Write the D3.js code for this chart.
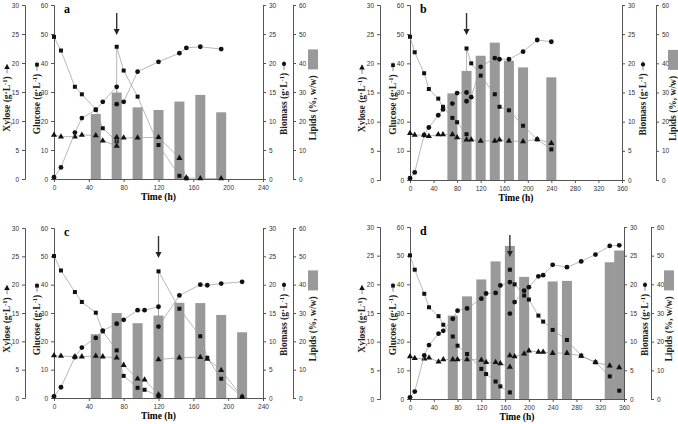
<!DOCTYPE html>
<html><head><meta charset="utf-8">
<script src="https://cdn.jsdelivr.net/npm/d3@7"></script>
<style>body{margin:0;background:#fff}svg{font-family:"Liberation Serif",serif}</style>
</head><body>
<svg id="chart" width="678" height="424"></svg>
<script>
// [time (h), value]
const aGlucose = [[0,49],[8,44.3],[24,31.8],[32,29.2],[48,24],[56,17.5],[72,13],[72,45.6],[80,37.4],[96,28.4],[120,11.7],[144,1.1],[152,0.2]];
const aXylose = [[0,7.6],[8,7.3],[24,7.3],[32,7.6],[48,7.5],[56,6.6],[72,5.7],[72,7.2],[80,7.1],[96,7.1],[120,7.2],[144,3.6],[152,0.2],[168,0.1],[192,0.1]];
const aBiomass = [[0,0.3],[8,2.0],[24,8.0],[32,10.5],[48,11.9],[56,13.3],[72,15.9],[72,12.9],[80,13.3],[96,18.5],[120,20.2],[144,21.7],[152,22.6],[168,22.8],[192,22.4]];
const aLipids = [[48,22.4],[72,29.8],[96,24.7],[120,23.8],[144,26.7],[168,29],[192,23]];

const bGlucose = [[0,49.1],[8,43.8],[24,36.6],[32,31.2],[48,27.9],[56,25.1],[72,21.3],[80,19.8],[96,15.7],[96,45.1],[104,40],[120,35.8],[144,29.4],[152,25.1],[168,23.9],[192,18.6],[216,13.9],[240,10.5]];
const bXylose = [[0,8],[8,7.7],[24,7.7],[32,7.5],[48,7.8],[56,7.8],[72,7.8],[80,7.3],[96,6.9],[104,6.9],[120,6.7],[144,6.7],[152,6.9],[168,6.7],[192,6.6],[216,7],[240,6.3]];
const bBiomass = [[0,0.3],[8,1.3],[24,7.7],[32,9],[48,11.1],[56,12.1],[72,13.1],[80,14.9],[96,15],[96,13.5],[104,14.2],[120,19.4],[144,20.9],[152,20.7],[168,20.7],[192,22],[216,24],[240,23.7]];
const bLipids = [[72,29.7],[96,37.4],[120,42.6],[144,47.1],[168,40.9],[192,38.6],[240,35.2]];

const cGlucose = [[0,50.1],[8,45],[24,37.4],[32,33.9],[48,30.1],[56,23.5],[72,16.8],[80,7.8],[96,3.6],[104,2.9],[120,0.7],[120,44.7],[144,31.5],[168,21.8],[176,14.2],[192,6.8],[216,0.4]];
const cXylose = [[0,7.5],[8,7.4],[24,7.3],[32,7.3],[48,7.4],[56,7.3],[72,7.1],[80,5.8],[96,3.4],[104,3.2],[120,0.6],[120,6.8],[144,7.1],[168,7.2],[176,6.9],[192,4.9],[216,0.2]];
const cBiomass = [[0,0.3],[8,1.9],[24,7.2],[32,8.9],[48,10.6],[56,11.9],[72,13.1],[80,13.8],[96,15.5],[104,15.5],[120,16.1],[120,12.6],[144,18.1],[168,20],[176,19.9],[192,20.2],[216,20.5]];
const cLipids = [[48,22.5],[72,30],[96,26.4],[120,29.1],[144,33.6],[168,33.5],[192,29.3],[216,23.2]];

const dGlucose = [[0,50.1],[8,45.1],[24,36.7],[32,32],[48,28.9],[56,25.9],[72,21.8],[80,18.6],[96,15.7],[120,10.5],[128,8.7],[144,6.1],[152,4.4],[168,2.3],[168,45.1],[176,40],[192,36.1],[200,34.7],[216,29.1],[224,27],[240,24.1],[264,20.6],[288,15.1],[312,12.8],[336,7.9],[352,2.9]];
const dXylose = [[0,7.4],[8,7.1],[24,7],[32,7.2],[48,6.5],[56,6.9],[72,6.9],[80,6.9],[96,6.9],[120,6.8],[128,6.4],[144,6.4],[152,6.2],[168,5.6],[168,7.6],[176,7.4],[192,7.9],[200,8.4],[216,8.2],[224,8.2],[240,8],[264,8],[288,7.5],[312,6.4],[336,5.8],[352,5.5]];
const dBiomass = [[0,0.3],[8,1.3],[24,7.6],[32,9.4],[48,11.4],[56,11.9],[72,14],[80,15.4],[96,15.8],[120,17.5],[128,18.4],[144,18.5],[152,19.8],[168,20.4],[168,14.9],[176,16.9],[192,18.9],[200,19.5],[216,21.4],[224,21.6],[240,23.4],[264,23],[288,24],[312,25.2],[336,26.7],[352,26.8]];
const dLipids = [[72,29.1],[96,35.8],[120,41.7],[144,48],[168,53.4],[192,42.6],[240,41],[264,41.2],[336,47.7],[352,51.8]];

const feedTimes = {a: 72, b: 96, c: 120, d: 168};
const panelLetters = ["a", "b", "c", "d"];
const xMaxes = [240, 360, 240, 360];
const lowTicks = [0, 5, 10, 15, 20, 25, 30];
const highTicks = [0, 10, 20, 30, 40, 50, 60];

const panels = [
  {key: "a", glu: aGlucose, xyl: aXylose, bio: aBiomass, lip: aLipids, left: 54, right: 263, top: 5, bottom: 179, xylX: 25, lipX: 293, lipLab: 313},
  {key: "b", glu: bGlucose, xyl: bXylose, bio: bBiomass, lip: bLipids, left: 410, right: 622, top: 5, bottom: 180, xylX: 380, lipX: 656, lipLab: 673},
  {key: "c", glu: cGlucose, xyl: cXylose, bio: cBiomass, lip: cLipids, left: 54, right: 263, top: 228, bottom: 398, xylX: 25, lipX: 293, lipLab: 313},
  {key: "d", glu: dGlucose, xyl: dXylose, bio: dBiomass, lip: dLipids, left: 410, right: 624, top: 227, bottom: 399, xylX: 380, lipX: 651, lipLab: 669}
];

const svg = d3.select("#chart");
const axisCol = "#555";

const styleAxis = g => {
  g.selectAll("path,line").attr("stroke", axisCol);
  g.selectAll("text").attr("fill", "#333").style("font-size", "6.5px");
};

// rotated label with "— marker" on its upper end
const vLabel = (x, yc, html, marker) => {
  const t = svg.append("text").attr("transform", `translate(${x},${yc}) rotate(-90)`)
    .attr("text-anchor", "middle").attr("dy", "0.35em")
    .style("font-size", "9.5px").style("font-weight", "bold").attr("fill", "#222")
    .html(html);
  const len = t.node().getComputedTextLength();
  const topY = yc - len / 2;
  if (marker === "bar") {
    svg.append("rect").attr("x", x - 5).attr("y", topY - 26).attr("width", 10).attr("height", 20).attr("fill", "#999");
    return;
  }
  svg.append("line").attr("x1", x).attr("x2", x).attr("y1", topY - 3).attr("y2", topY - 12)
    .attr("stroke", "#555").attr("stroke-width", 0.7);
  svg.append("path").attr("transform", `translate(${x},${topY - 9})`)
    .attr("d", d3.symbol().type(marker).size(14)).attr("fill", "#111");
};

const sup = "(g·L<tspan dy='-3.5' font-size='6.5'>-1</tspan><tspan dy='3.5'>)</tspan>";

panels.forEach((p, i) => {
  const x = d3.scaleLinear().domain([0, xMaxes[i]]).range([p.left, p.right]);
  const yLow = d3.scaleLinear().domain([0, 30]).range([p.bottom, p.top]);
  const yHigh = d3.scaleLinear().domain([0, 60]).range([p.bottom, p.top]);
  const mid = (p.top + p.bottom) / 2;

  svg.append("g").selectAll("rect").data(p.lip).enter().append("rect")
    .attr("x", d => x(d[0]) - 5).attr("width", 10)
    .attr("y", d => yHigh(d[1])).attr("height", d => p.bottom - yHigh(d[1]))
    .attr("fill", "#999");

  const xt = d3.range(0, xMaxes[i] + 1, 40);
  svg.append("g").attr("transform", `translate(0,${p.bottom})`)
    .call(d3.axisBottom(x).tickValues(xt).tickSize(3).tickFormat(d3.format("d"))).call(styleAxis);
  svg.append("g").attr("transform", `translate(${p.left},0)`)
    .call(d3.axisLeft(yHigh).tickValues(highTicks).tickSize(3)).call(styleAxis);
  svg.append("g").attr("transform", `translate(${p.xylX},0)`)
    .call(d3.axisLeft(yLow).tickValues(lowTicks).tickSize(3)).call(styleAxis);
  svg.append("g").attr("transform", `translate(${p.right},0)`)
    .call(d3.axisRight(yLow).tickValues(lowTicks).tickSize(3)).call(styleAxis);
  svg.append("g").attr("transform", `translate(${p.lipX},0)`)
    .call(d3.axisRight(yHigh).tickValues(highTicks).tickSize(3)).call(styleAxis);

  const series = [
    {data: p.glu, y: yHigh, sym: d3.symbolSquare, size: 16},
    {data: p.xyl, y: yLow, sym: d3.symbolTriangle, size: 16},
    {data: p.bio, y: yLow, sym: d3.symbolCircle, size: 18}
  ];
  series.forEach(s => {
    const line = d3.line().x(d => x(d[0])).y(d => s.y(d[1]));
    svg.append("path").attr("d", line(s.data)).attr("fill", "none")
      .attr("stroke", "#999").attr("stroke-width", 0.7);
    svg.append("g").selectAll("path").data(s.data).enter().append("path")
      .attr("transform", d => `translate(${x(d[0])},${s.y(d[1])})`)
      .attr("d", d3.symbol().type(s.sym).size(s.size)).attr("fill", "#111");
  });

  const ax = x(feedTimes[p.key]);
  svg.append("line").attr("x1", ax).attr("x2", ax).attr("y1", p.top + 8).attr("y2", p.top + 26)
    .attr("stroke", "#333").attr("stroke-width", 1.4);
  svg.append("path").attr("d", `M${ax - 3},${p.top + 24}L${ax + 3},${p.top + 24}L${ax},${p.top + 30}Z`).attr("fill", "#222");

  svg.append("text").attr("x", p.left + 10).attr("y", p.top + 8)
    .style("font-size", "12px").style("font-weight", "bold").text(panelLetters[i]);

  svg.append("text").attr("x", (p.left + p.right) / 2).attr("y", p.bottom + 21)
    .attr("text-anchor", "middle").style("font-size", "9.5px").style("font-weight", "bold").text("Time (h)");

  vLabel(p.xylX - 18, mid + 12, "Xylose " + sup, d3.symbolTriangle);
  vLabel(p.left - 17, mid + 12, "Glucose " + sup, d3.symbolSquare);
  vLabel(p.right + 21, mid + 12, "Biomass " + sup, d3.symbolCircle);
  vLabel(p.lipLab, mid + 16, "Lipids (%, w/w)", "bar");
});
</script>
</body></html>
